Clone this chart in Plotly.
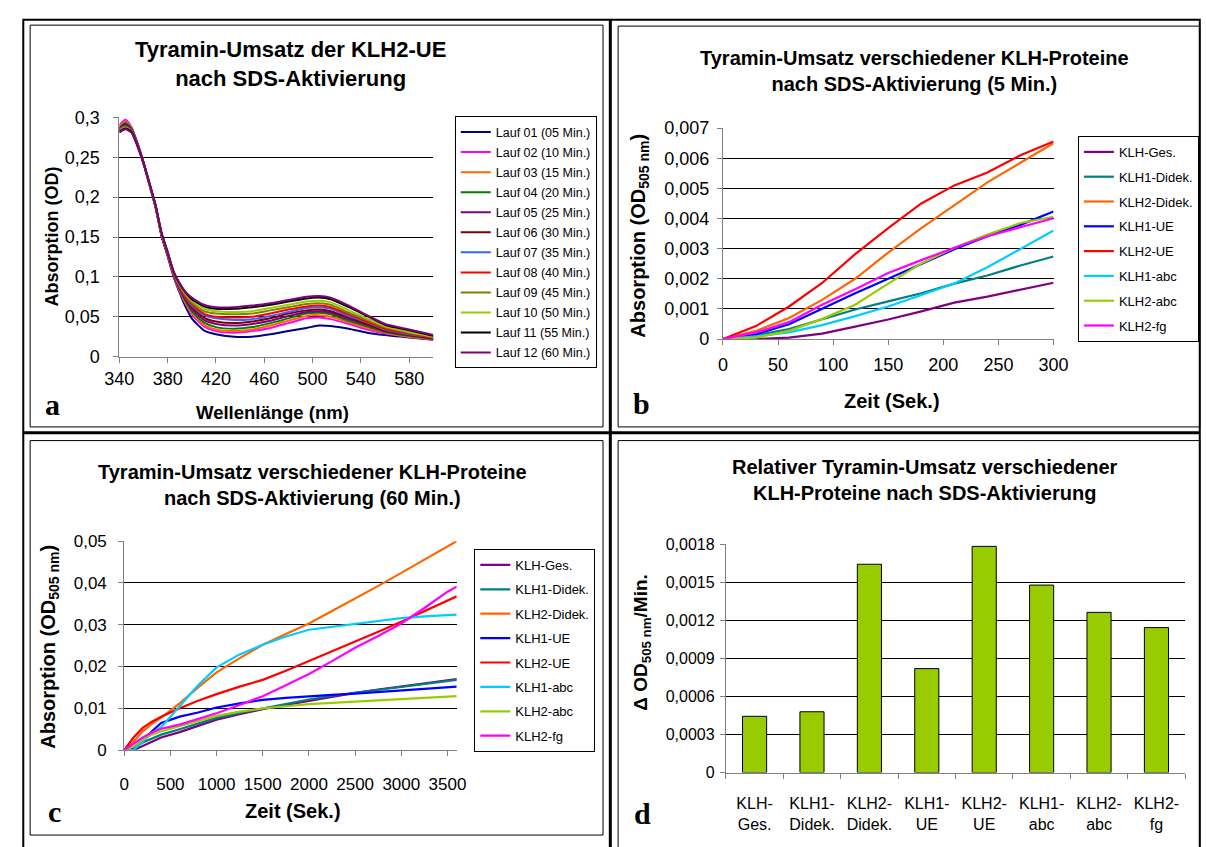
import plotly.graph_objects as go

# ---------------- data ----------------
# (a) spectra of KLH2-UE after SDS activation, 12 runs
WAVELENGTH = [340, 345, 350, 355, 360, 365, 370, 375, 380, 385, 390, 395, 400, 410,
              420, 435, 450, 465, 480, 495, 505, 515, 530, 545, 560, 580, 600]
RUN_NAMES = ["Lauf 01 (05 Min.)", "Lauf 02 (10 Min.)", "Lauf 03 (15 Min.)", "Lauf 04 (20 Min.)",
             "Lauf 05 (25 Min.)", "Lauf 06 (30 Min.)", "Lauf 07 (35 Min.)", "Lauf 08 (40 Min.)",
             "Lauf 09 (45 Min.)", "Lauf 10 (50 Min.)", "Lauf 11 (55 Min.)", "Lauf 12 (60 Min.)"]
RUN_COLORS = ["#000080", "#FF00FF", "#FF6600", "#008000", "#800080", "#800000",
              "#3366FF", "#FF0000", "#808000", "#99CC00", "#000000", "#800080"]
LAUF_01 = [.283, .290, .282, .264, .242, .215, .187, .151, .126, .100, .080, .062, .048, .033,
           .028, .025, .025, .028, .032, .036, .039, .0385, .035, .030, .027, .024, .021]
LAUF_02 = [.290, .297, .288, .268, .244, .216, .188, .152, .127, .101, .082, .066, .053, .038,
           .032, .030, .032, .036, .042, .048, .049, .047, .041, .034, .029, .025, .021]
LAUF_03 = [.289, .295, .287, .268, .244, .216, .188, .152, .127, .102, .083, .067, .055, .040,
           .034, .032, .034, .039, .045, .051, .052, .050, .043, .036, .030, .025, .022]
LAUF_04 = [.287, .293, .286, .267, .243, .216, .188, .152, .127, .102, .084, .069, .057, .043,
           .037, .035, .037, .042, .048, .054, .055, .053, .045, .038, .031, .026, .022]
LAUF_05 = [.286, .291, .285, .266, .243, .216, .188, .152, .128, .103, .085, .071, .060, .046,
           .041, .039, .041, .045, .051, .056, .057, .055, .047, .040, .032, .027, .023]
LAUF_06 = [.285, .290, .284, .266, .243, .216, .188, .152, .128, .103, .086, .072, .062, .049,
           .044, .042, .044, .048, .054, .058, .059, .057, .049, .041, .033, .027, .023]
LAUF_07 = [.285, .289, .284, .266, .243, .216, .189, .153, .129, .104, .087, .074, .064, .052,
           .048, .046, .047, .051, .056, .061, .062, .060, .051, .043, .034, .028, .024]
LAUF_08 = [.284, .288, .283, .265, .243, .216, .189, .153, .129, .104, .088, .075, .066, .054,
           .050, .049, .050, .054, .059, .063, .064, .062, .053, .044, .035, .029, .024]
LAUF_09 = [.284, .288, .283, .265, .243, .216, .189, .154, .130, .105, .089, .077, .068, .057,
           .054, .053, .054, .058, .062, .066, .067, .065, .055, .046, .037, .030, .025]
LAUF_10 = [.283, .287, .282, .265, .243, .216, .189, .154, .130, .105, .090, .078, .070, .060,
           .057, .056, .057, .061, .065, .069, .070, .068, .058, .048, .038, .031, .025]
LAUF_11 = [.282, .286, .282, .265, .243, .217, .190, .155, .131, .106, .091, .080, .072, .063,
           .060, .060, .062, .065, .069, .073, .074, .072, .062, .051, .040, .033, .026]
LAUF_12 = [.281, .285, .281, .265, .243, .217, .190, .155, .131, .107, .092, .081, .074, .065,
           .062, .062, .064, .067, .071, .075, .076, .074, .064, .052, .041, .034, .027]
RUNS = [LAUF_01, LAUF_02, LAUF_03, LAUF_04, LAUF_05, LAUF_06,
        LAUF_07, LAUF_08, LAUF_09, LAUF_10, LAUF_11, LAUF_12]

PROTEINS = ["KLH-Ges.", "KLH1-Didek.", "KLH2-Didek.", "KLH1-UE",
            "KLH2-UE", "KLH1-abc", "KLH2-abc", "KLH2-fg"]
PROTEIN_COLORS = ["#800080", "#008080", "#FF6600", "#0000FF",
                  "#FF0000", "#00CCFF", "#99CC00", "#FF00FF"]

# (b) kinetics after 5 min activation
TIME_B = [0, 30, 60, 90, 120, 150, 180, 210, 240, 270, 300]
B_KLH_GES = [0, 0, 0.00005, 0.00018, 0.00041, 0.00065, 0.00092, 0.00121, 0.00141, 0.00165, 0.00187]
B_KLH1_DIDEK = [0, 0.00013, 0.00033, 0.00065, 0.00098, 0.00125, 0.00152, 0.00184, 0.00211, 0.00244, 0.00274]
B_KLH2_DIDEK = [0, 0.00027, 0.0007, 0.0013, 0.002, 0.00287, 0.00368, 0.00444, 0.0052, 0.00585, 0.0065]
B_KLH1_UE = [0, 0.00016, 0.00049, 0.001, 0.00152, 0.002, 0.00249, 0.00298, 0.00341, 0.00379, 0.00423]
B_KLH2_UE = [0, 0.00043, 0.00108, 0.00186, 0.00282, 0.00368, 0.0045, 0.0051, 0.00553, 0.0061, 0.00656]
B_KLH1_ABC = [0, 0.00009, 0.00022, 0.00046, 0.00076, 0.00108, 0.00146, 0.00184, 0.00238, 0.00298, 0.0036]
B_KLH2_ABC = [0, 0.00005, 0.00027, 0.00067, 0.00114, 0.00184, 0.00251, 0.00303, 0.00347, 0.00385, 0.00406]
B_KLH2_FG = [0, 0.00022, 0.00056, 0.00114, 0.00165, 0.00219, 0.00262, 0.00303, 0.00341, 0.00371, 0.00401]
SERIES_B = [B_KLH_GES, B_KLH1_DIDEK, B_KLH2_DIDEK, B_KLH1_UE,
            B_KLH2_UE, B_KLH1_ABC, B_KLH2_ABC, B_KLH2_FG]

# (c) kinetics after 60 min activation
TIME_C = [0, 100, 200, 300, 400, 600, 800, 1000, 1250, 1500, 1750, 2000,
          2250, 2500, 2750, 3000, 3250, 3500, 3600]
C_KLH_GES = [0, 0, 0.001, 0.002, 0.003, 0.0043, 0.0058, 0.0073, 0.0086, 0.0098, 0.0108, 0.0118,
             0.0128, 0.0137, 0.0145, 0.0152, 0.016, 0.0167, 0.017]
C_KLH1_DIDEK = [0, 0.0005, 0.0018, 0.0028, 0.0037, 0.005, 0.0064, 0.0077, 0.0089, 0.01, 0.0111, 0.0121,
                0.013, 0.0137, 0.0144, 0.0151, 0.0158, 0.0165, 0.0168]
C_KLH2_DIDEK = [0, 0.002, 0.0045, 0.0063, 0.0078, 0.0112, 0.015, 0.0186, 0.022, 0.0252, 0.0278, 0.0303,
                0.0333, 0.0362, 0.0393, 0.0424, 0.0456, 0.0488, 0.05]
C_KLH1_UE = [0, 0.0005, 0.002, 0.0045, 0.0065, 0.008, 0.009, 0.0102, 0.0112, 0.012, 0.0125, 0.0129,
             0.0132, 0.0135, 0.0139, 0.0143, 0.0147, 0.0151, 0.0152]
C_KLH2_UE = [0, 0.003, 0.0053, 0.0068, 0.008, 0.01, 0.0118, 0.0134, 0.0152, 0.0168, 0.019, 0.0213,
             0.0236, 0.026, 0.0283, 0.0307, 0.0332, 0.0358, 0.0368]
C_KLH1_ABC = [0, 0, 0.002, 0.0041, 0.0055, 0.0105, 0.0155, 0.0198, 0.0229, 0.0252, 0.0272, 0.0288,
              0.0295, 0.0301, 0.0308, 0.0316, 0.032, 0.0323, 0.0324]
C_KLH2_ABC = [0, 0.0008, 0.0025, 0.0037, 0.0045, 0.0057, 0.007, 0.0082, 0.0092, 0.01, 0.0105, 0.011,
              0.0113, 0.0116, 0.0119, 0.0121, 0.0124, 0.0127, 0.0129]
C_KLH2_FG = [0, 0.0015, 0.003, 0.0042, 0.0051, 0.0061, 0.0074, 0.0088, 0.0108, 0.0129, 0.0155, 0.0182,
             0.0213, 0.0245, 0.0273, 0.0303, 0.034, 0.0379, 0.0391]
SERIES_C = [C_KLH_GES, C_KLH1_DIDEK, C_KLH2_DIDEK, C_KLH1_UE,
            C_KLH2_UE, C_KLH1_ABC, C_KLH2_ABC, C_KLH2_FG]

# (d) relative turnover per minute
BAR_LABELS = ["KLH-<br>Ges.", "KLH1-<br>Didek.", "KLH2-<br>Didek.", "KLH1-<br>UE",
              "KLH2-<br>UE", "KLH1-<br>abc", "KLH2-<br>abc", "KLH2-<br>fg"]
BAR_VALUES = [0.000443, 0.000479, 0.001641, 0.000819, 0.001782, 0.001477, 0.001262, 0.001142]

# tick labels (German decimal comma)
A_XTICKS = [340, 380, 420, 460, 500, 540, 580]
A_YTICKS = [0, 0.05, 0.1, 0.15, 0.2, 0.25, 0.3]
A_YLABELS = ["0", "0,05", "0,1", "0,15", "0,2", "0,25", "0,3"]
B_XTICKS = [0, 50, 100, 150, 200, 250, 300]
B_YTICKS = [0, 0.001, 0.002, 0.003, 0.004, 0.005, 0.006, 0.007]
B_YLABELS = ["0", "0,001", "0,002", "0,003", "0,004", "0,005", "0,006", "0,007"]
C_XTICKS = [0, 500, 1000, 1500, 2000, 2500, 3000, 3500]
C_YTICKS = [0, 0.01, 0.02, 0.03, 0.04, 0.05]
C_YLABELS = ["0", "0,01", "0,02", "0,03", "0,04", "0,05"]
D_YTICKS = [0, 0.0003, 0.0006, 0.0009, 0.0012, 0.0015, 0.0018]
D_YLABELS = ["0", "0,0003", "0,0006", "0,0009", "0,0012", "0,0015", "0,0018"]

# ---------------- layout helpers ----------------
W, H = 1206, 847
FONT = "Arial, Liberation Sans, sans-serif"
SERIF = "Times New Roman, Liberation Serif, serif"


def fx(px):
    return px / W


def fy(py):
    return 1 - py / H


def axis(domain, rng, anchor, size, vals=None, text=None, grid=False, standoff=0):
    d = dict(domain=domain, range=rng, anchor=anchor, showgrid=grid, gridcolor="#000000",
             gridwidth=1, showline=True, linecolor="#808080", linewidth=1, ticks="outside",
             ticklen=5, tickcolor="#808080", zeroline=False, fixedrange=True,
             ticklabelstandoff=standoff,
             tickfont=dict(family=FONT, size=size, color="black"))
    if vals is not None:
        d.update(tickmode="array", tickvals=vals)
    if text is not None:
        d.update(ticktext=text)
    return d


fig = go.Figure()

for name, color, ys in zip(RUN_NAMES, RUN_COLORS, RUNS):
    fig.add_trace(go.Scatter(x=WAVELENGTH, y=ys, name=name, mode="lines",
                             line=dict(color=color, width=2, shape="spline", smoothing=0.6),
                             xaxis="x", yaxis="y", legend="legend", legendgroup=name))

for name, color, ys in zip(PROTEINS, PROTEIN_COLORS, SERIES_B):
    fig.add_trace(go.Scatter(x=TIME_B, y=ys, name=name, mode="lines",
                             line=dict(color=color, width=2.2),
                             xaxis="x2", yaxis="y2", legend="legend2", legendgroup="b" + name))

for name, color, ys in zip(PROTEINS, PROTEIN_COLORS, SERIES_C):
    fig.add_trace(go.Scatter(x=TIME_C, y=ys, name=name, mode="lines",
                             line=dict(color=color, width=2.2),
                             xaxis="x3", yaxis="y3", legend="legend3", legendgroup="c" + name))

fig.add_trace(go.Bar(x=BAR_LABELS, y=BAR_VALUES, marker=dict(color="#99CC00",
                     line=dict(color="#000000", width=1)), width=0.42,
                     xaxis="x4", yaxis="y4", showlegend=False))

legend_common = dict(bgcolor="white", bordercolor="black", borderwidth=1,
                     xanchor="left", yanchor="top", itemclick=False, itemdoubleclick=False)

fig.update_layout(
    width=W, height=H, autosize=False,
    margin=dict(l=0, r=0, t=0, b=0),
    paper_bgcolor="white", plot_bgcolor="white",
    font=dict(family=FONT, color="black"),
    xaxis=axis([fx(107), fx(429)], [340, 600], "y", 18, A_XTICKS, standoff=1),
    yaxis=axis([fy(355), fy(110)], [0, 0.3], "x", 18, A_YTICKS, A_YLABELS, grid=True, standoff=10),
    xaxis2=axis([fx(726), fx(1065)], [0, 300], "y2", 18, B_XTICKS, standoff=4),
    yaxis2=axis([fy(337), fy(121)], [0, 0.007], "x2", 18, B_YTICKS, B_YLABELS, grid=True, standoff=4),
    xaxis3=axis([fx(112), fx(453)], [0, 3600], "y3", 17, C_XTICKS, standoff=13),
    yaxis3=axis([fy(758), fy(544)], [0, 0.05], "x3", 17, C_YTICKS, C_YLABELS, grid=True, standoff=8),
    xaxis4=dict(axis([fx(729), fx(1200)], [-0.5, 7.5], "y4", 16, standoff=16), type="category",
                tickson="boundaries"),
    yaxis4=axis([fy(781), fy(547)], [0, 0.0018], "x4", 16, D_YTICKS, D_YLABELS, grid=True, standoff=2),
    legend=dict(legend_common, x=fx(451), y=fy(109), font=dict(family=FONT, size=12.5),
                tracegroupgap=0.8),
    legend2=dict(legend_common, x=fx(1090), y=fy(129), font=dict(family=FONT, size=13),
                 tracegroupgap=4.9),
    legend3=dict(legend_common, x=fx(471), y=fy(552), font=dict(family=FONT, size=13),
                 tracegroupgap=4.5),
    showlegend=True,
)

annotations = []


def note(text, x, y, size, angle=0, family=FONT):
    annotations.append(dict(text=text, x=fx(x), y=fy(y), xref="paper", yref="paper",
                            xanchor="center", yanchor="middle", showarrow=False,
                            textangle=angle, font=dict(family=family, size=size, color="black")))


# chart titles
note("<b>Tyramin-Umsatz der KLH2-UE<br>nach SDS-Aktivierung</b>", 283, 55, 22)
note("<b>Tyramin-Umsatz verschiedener KLH-Proteine<br>nach SDS-Aktivierung (5 Min.)</b>", 922, 62.5, 20)
note("<b>Tyramin-Umsatz verschiedener KLH-Proteine<br>nach SDS-Aktivierung (60 Min.)</b>", 305, 486.5, 20)
note("<b>Relativer Tyramin-Umsatz verschiedener<br>KLH-Proteine nach SDS-Aktivierung</b>", 933, 481.5, 20)

# axis titles
note("<b>Absorption (OD)</b>", 37, 232, 18, -90)
note("<b>Wellenlänge (nm)</b>", 264, 412, 18.5)
note("<b>Absorption (OD<sub>505 nm</sub>)</b>", 640, 231, 20, -90)
note("<b>Zeit (Sek.)</b>", 899, 400, 20)
note("<b>Absorption (OD<sub>505 nm</sub>)</b>", 35, 652, 20, -90)
note("<b>Zeit (Sek.)</b>", 285, 820, 20)
note("<b>Δ OD<sub>505 nm</sub>/Min.</b>", 643, 648, 19, -90)

# panel letters
note("<b>a</b>", 38, 404, 30, family=SERIF)
note("<b>b</b>", 642, 403, 30, family=SERIF)
note("<b>c</b>", 40, 821, 30, family=SERIF)
note("<b>d</b>", 643, 823, 30, family=SERIF)

fig.update_layout(annotations=annotations)

# frame: outer border, dividers and the four panel borders
shapes = []


def rect(x0, y0, x1, y1, width):
    shapes.append(dict(type="rect", xref="paper", yref="paper", x0=fx(x0), x1=fx(x1),
                       y0=fy(y1), y1=fy(y0), line=dict(color="black", width=width),
                       fillcolor="rgba(0,0,0,0)", layer="above"))


def hline(x0, x1, y, width):
    shapes.append(dict(type="line", xref="paper", yref="paper", x0=fx(x0), x1=fx(x1),
                       y0=fy(y), y1=fy(y), line=dict(color="black", width=width)))


def vline(x, y0, y1, width):
    shapes.append(dict(type="line", xref="paper", yref="paper", x0=fx(x), x1=fx(x),
                       y0=fy(y0), y1=fy(y1), line=dict(color="black", width=width)))


rect(8.5, 10, 1215, 860, 2)
vline(610.5, 10, 860, 3)
hline(8, 1215, 433, 3)
rect(15.5, 15.5, 603, 427, 1)
rect(618.5, 16.5, 1215, 427, 1)
rect(15.5, 441, 603, 845, 1)
rect(618.5, 441, 1215, 860, 1)

fig.update_layout(shapes=shapes)

fig.write_html("out.html", config={"displayModeBar": False, "staticPlot": True})
